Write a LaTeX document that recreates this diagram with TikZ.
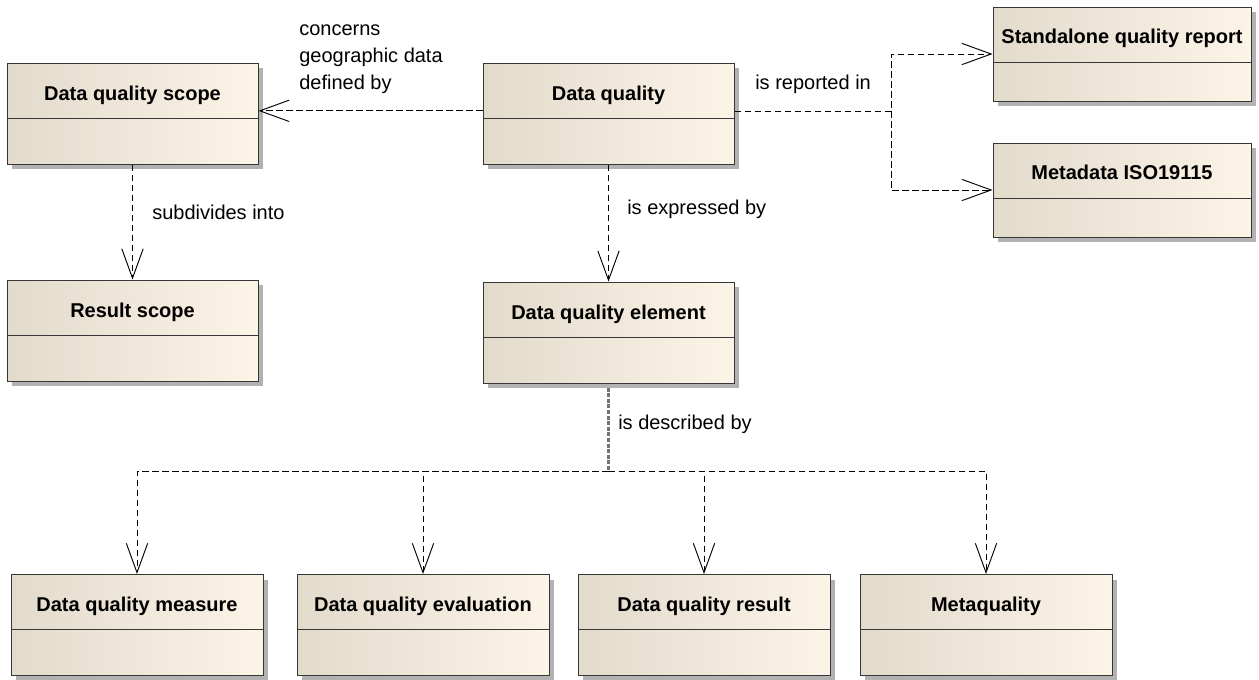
\documentclass[tikz,border=0pt]{standalone}
\usepackage{fontspec}
\setmainfont{Liberation Sans}
\usepackage{tikz}
\usetikzlibrary{shapes, arrows.meta, positioning, shadows}
\usepackage{xcolor}

\definecolor{boxleft}{RGB}{226,218,203}
\definecolor{boxright}{RGB}{252,244,231}
\definecolor{boxline}{RGB}{55,55,55}

\tikzset{
  umlclass/.style={
    rectangle, draw=boxline, line width=0.75pt,
    left color=boxleft, right color=boxright,
    drop shadow={shadow xshift=3.75pt, shadow yshift=-3.75pt,
      fill=black!30, opacity=1},
    minimum width=188.25pt,
    inner xsep=0pt, inner ysep=0pt,
    text height=27.75pt, text depth=48pt,
    font=\fontsize{15}{18}\selectfont\bfseries,
    path picture={\draw[boxline, line width=0.75pt]
      ([yshift=-41.25pt]path picture bounding box.north west) --
      ([yshift=-41.25pt]path picture bounding box.north east);}
  },
  dep/.style={dash pattern=on 5pt off 2.5pt, line width=0.7pt,
    -{Straight Barb[length=22pt, width=16pt]}},
  trunk/.style={draw=black!55, dash pattern=on 3pt off 1.2pt,
    line width=2.2pt},
  rel/.style={font=\fontsize{15}{20.25}\selectfont, inner sep=0pt,
    anchor=base west}
}

\begin{document}
\begin{tikzpicture}[x=0.75pt, y=-0.75pt]
\useasboundingbox (0,0) rectangle (1259,679);

\node[umlclass] (scope) at (132.5,113.5) {Data quality scope};

\node[umlclass] (dq) at (608.5,113.5) {Data quality};

\node[umlclass,
    minimum width=193.5pt,
    text height=27pt, text depth=43.5pt
] (sqr) at (1122,54) {Standalone quality report};

\node[umlclass,
    below=30.75pt of sqr,
    minimum width=193.5pt,
    text height=27pt, text depth=43.5pt
] (iso) {Metadata ISO19115};

\node[umlclass,
    below=86.25pt of scope
] (rscope) {Result scope};

\node[umlclass,
    below=87.75pt of dq
] (dqe) {Data quality element};

\node[umlclass, minimum width=189pt] (measure) at (137,625) {Data quality measure};

\node[umlclass,
    right=24.75pt of measure,
    minimum width=189pt
] (eval) {Data quality evaluation};

\node[umlclass,
    right=21pt of eval,
    minimum width=189pt
] (result) {Data quality result};

\node[umlclass,
    right=21.75pt of result,
    minimum width=189pt
] (meta) {Metaquality};

% Labels
\node[rel, align=left] (geolabel) at (299,89) {concerns\\geographic data\\defined by};
\node[rel] (replabel) at (755,89) {is reported in};
\node[rel] (sublabel) at (152,219) {subdivides into};
\node[rel] (explabel) at (627,214) {is expressed by};
\node[rel] (desclabel) at (618,429) {is described by};

% Arrows
\coordinate (fork) at (891,111);
\coordinate (busy) at (0,471);
\draw[dep] ([yshift=2pt]dq.west) -- ([yshift=2pt]dq.west -| scope.east);
\draw[dep] (dq.east |- fork) -- (fork) |- (sqr.west);
\draw[dep] (fork) |- (iso.west);
\draw[dep] (scope.south) -- (rscope.north);
\draw[dep] (dq.south) -- (dqe.north);
\draw[trunk] ([yshift=-3pt]dqe.south) -- (dqe.south |- busy);
\foreach \b in {measure, eval, result, meta}
  \draw[dep] (dqe.south |- busy) -| (\b.north);
\end{tikzpicture}
\end{document}
